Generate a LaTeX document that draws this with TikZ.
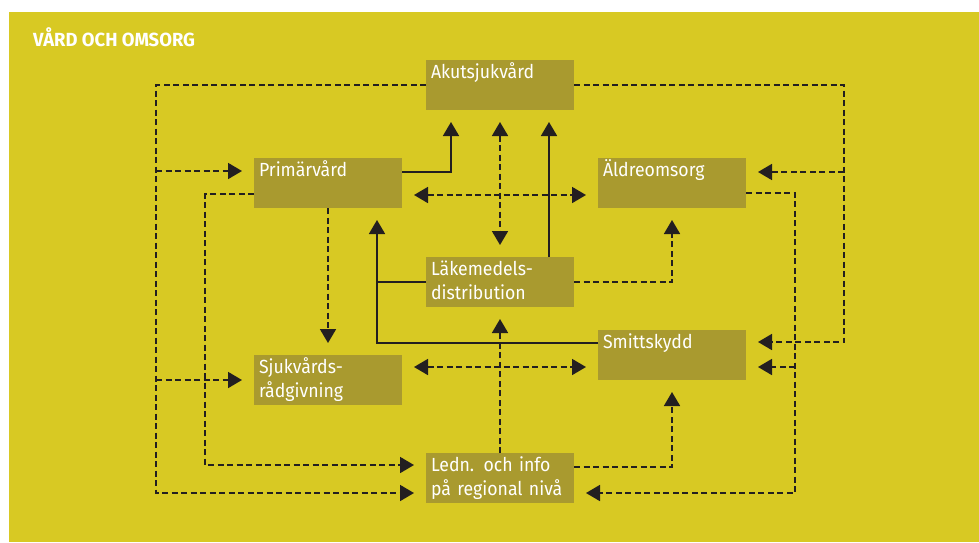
\documentclass[tikz,border=0pt]{standalone}
\usepackage{fontspec}
\newfontfamily\boxfont{Fira Sans}[FakeStretch=0.93]
\newfontfamily\titlefont{Fira Sans}[FakeStretch=0.97]
\usetikzlibrary{positioning,arrows.meta}
\definecolor{bgyellow}{RGB}{216,201,35}
\definecolor{boxolive}{RGB}{169,154,47}
\definecolor{linedark}{RGB}{35,31,32}

\begin{document}
\begin{tikzpicture}[x=1pt,y=-1pt,>={Triangle[length=14pt,width=16pt]},
        box node/.style={fill=boxolive,text=white,font=\boxfont\fontsize{19}{24}\selectfont,
            text width=138pt,inner xsep=5pt,inner ysep=2pt,outer sep=0pt,
            text height=16.5pt,text depth=29.5pt,align=left},
        dash line/.style={draw=linedark,line width=1.8pt,dash pattern=on 6pt off 3.5pt},
        solid line/.style={draw=linedark,line width=1.8pt},
        to box/.style={->,shorten >=12pt},
        both box/.style={<->,shorten >=12pt,shorten <=12pt}]

    \fill[white] (0,0) rectangle (979,542);
    \useasboundingbox (0,0) rectangle (979,542);
    \fill[bgyellow] (9,12) rectangle (979,542);
    \node[anchor=base west,inner sep=0pt,text=white,
        font=\titlefont\bfseries\fontsize{19}{22}\selectfont] (title) at (33,46) {VÅRD OCH OMSORG};

    \node[box node] (akut) at (500,85) {Akutsjukvård};
    \node[box node] (prim) [below left=48pt and 24pt of akut] {Primärvård};
    \node[box node] (aldre) [below right=48pt and 24pt of akut] {Äldreomsorg};
    \node[box node] (lake) [below right=49pt and 24pt of prim] {Läkemedels-\\distribution};
    \node[box node] (sjuk) [below=147pt of prim] {Sjukvårds-\\rådgivning};
    \node[box node] (smitt) [below=122pt of aldre] {Smittskydd};
    \node[box node] (ledn) [below=146pt of lake] {Ledn. och info\\på regional nivå};

    \coordinate (lo) at (156,493);
    \coordinate (li) at (205,465);
    \coordinate (ro) at (844,342);
    \coordinate (ri) at (795,493);
    \coordinate (sj) at ([xshift=49pt]prim.south);
    \coordinate (p1) at ([yshift=12pt]prim.west);
    \coordinate (p2) at ([yshift=11pt]aldre.east);
    \coordinate (p4) at ([yshift=-12pt]smitt.east);

    \draw[dash line,to box] (akut.west) -| (lo) -- ([yshift=-15pt]ledn.west);
    \draw[dash line,to box] (lo |- p1) -- (p1);
    \draw[dash line,to box] (lo |- sjuk.west) -- (sjuk.west);
    \draw[dash line,to box] (akut.east) -| (ro) -- ([yshift=13pt]smitt.east);
    \draw[dash line,to box] (ro |- p2) -- (p2);

    \draw[solid line,to box] ([yshift=11pt]prim.east) -| ([xshift=-49pt]akut.south);
    \draw[solid line,to box] ([xshift=49pt]lake.north) -- ([xshift=49pt]akut.south);
    \draw[dash line,both box] (akut.south) -- (lake.north);
    \draw[dash line,both box] ([yshift=-12pt]prim.east) -- ([yshift=-12pt]aldre.west);

    \draw[dash line,to box] ([yshift=-11pt]prim.west) -| (li) -- ([yshift=13pt]ledn.west);
    \draw[dash line,to box] (prim.south) -- (sjuk.north);
    \draw[solid line,to box] ([yshift=12pt]smitt.west) -| (sj);
    \draw[solid line] (lake.west) -- (lake.west -| sj);
    \draw[dash line,both box] ([yshift=13pt]sjuk.east) -- ([yshift=-12pt]smitt.west);

    \draw[dash line,to box] (lake.east) -| (aldre.south);
    \draw[dash line,to box] (ledn.north) -- (lake.south);
    \draw[dash line,to box] ([yshift=11pt]ledn.east) -| (smitt.south);
    \draw[dash line,to box] ([yshift=-10pt]aldre.east) -| (ri) -- ([yshift=-15pt]ledn.east);
    \draw[dash line,to box] (ri |- p4) -- (p4);
\end{tikzpicture}
\end{document}
